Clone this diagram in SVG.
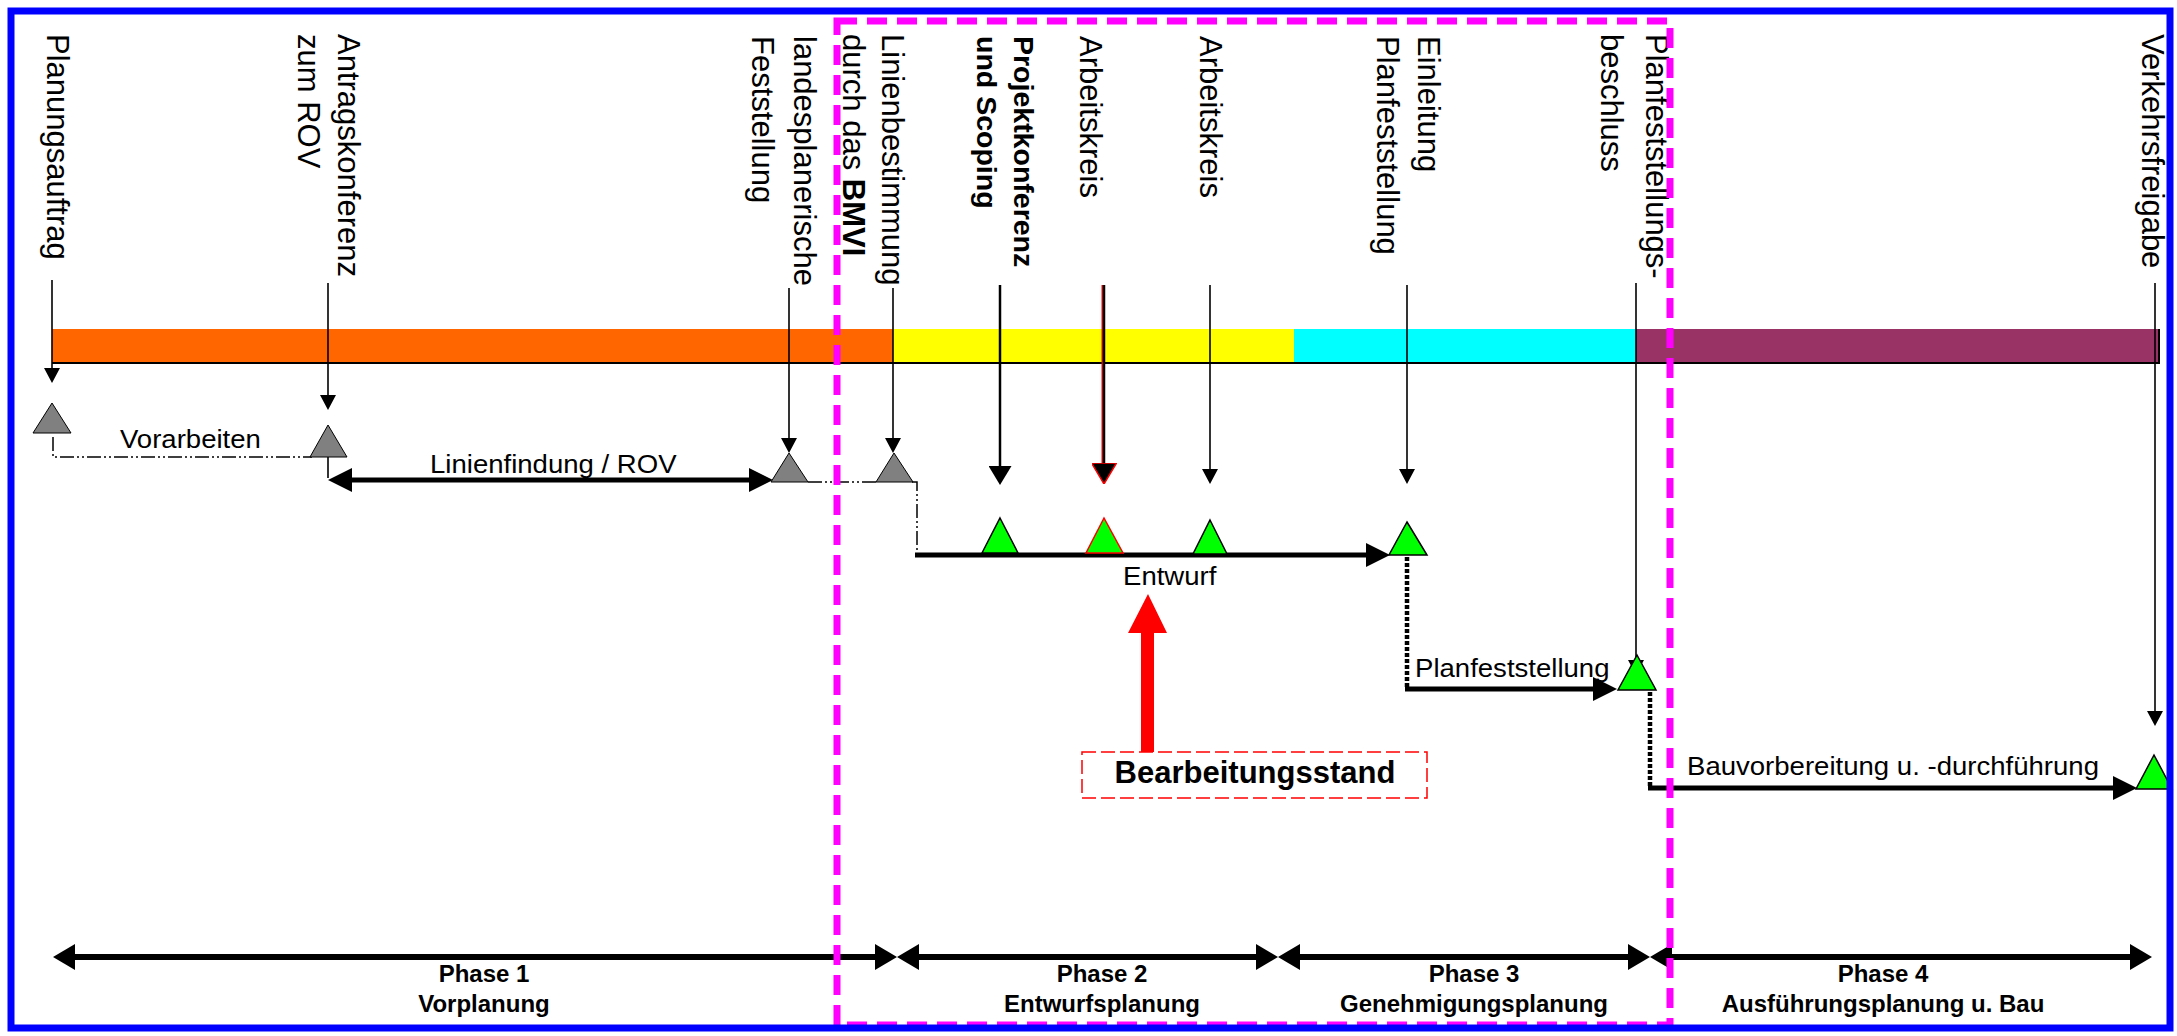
<svg xmlns="http://www.w3.org/2000/svg" width="2177" height="1036" viewBox="0 0 2177 1036">
<style>
.vl{font-family:"Liberation Sans",Arial,Helvetica,sans-serif;font-size:31px;fill:#000}
.b{font-weight:bold}
.pk{font-size:28.5px}
.hl{font-family:"Liberation Sans",Arial,Helvetica,sans-serif;font-size:26px;fill:#000}
.ph{font-family:"Liberation Sans",Arial,Helvetica,sans-serif;font-size:24px;font-weight:bold;fill:#000;text-anchor:middle}
.bs{font-family:"Liberation Sans",Arial,Helvetica,sans-serif;font-size:31px;font-weight:bold;fill:#000;text-anchor:middle}
.thin{stroke:#000;stroke-width:1.6;fill:none}
.thick{stroke:#000;stroke-width:5;fill:none}
.phase{stroke:#000;stroke-width:6;fill:none}
.dd{stroke:#000;stroke-width:1.5;fill:none;stroke-dasharray:14 3 2 3 2 3}
.dot{stroke:#000;stroke-width:4.5;fill:none;stroke-dasharray:4 2}
.gray{fill:#808080;stroke:#000;stroke-width:1}
.green{fill:#00FF00;stroke:#000;stroke-width:1.5}
</style>
<defs>
<marker id="mt" viewBox="0 0 15 16" refX="12" refY="8" markerWidth="15" markerHeight="16" markerUnits="userSpaceOnUse" orient="auto"><path d="M0,0 L15,8 L0,16 z" fill="#000"/></marker>
<marker id="mm" viewBox="0 0 19 23" refX="15" refY="11.5" markerWidth="19" markerHeight="23" markerUnits="userSpaceOnUse" orient="auto"><path d="M0,0 L19,11.5 L0,23 z" fill="#000"/></marker>
<marker id="mr" viewBox="0 0 21 25" refX="16" refY="12.5" markerWidth="21" markerHeight="25" markerUnits="userSpaceOnUse" orient="auto"><path d="M0,0 L21,12.5 L0,25 z" fill="#000" stroke="#FF0000" stroke-width="1.5"/></marker>
<marker id="mb" viewBox="0 0 24 24" refX="18" refY="12" markerWidth="24" markerHeight="24" markerUnits="userSpaceOnUse" orient="auto-start-reverse"><path d="M0,0 L24,12 L0,24 z" fill="#000"/></marker>
<marker id="mp" viewBox="0 0 22 26" refX="16" refY="13" markerWidth="22" markerHeight="26" markerUnits="userSpaceOnUse" orient="auto-start-reverse"><path d="M0,0 L22,13 L0,26 z" fill="#000"/></marker>
</defs>
<rect x="0" y="0" width="2177" height="1036" fill="#fff"/>

<g id="timeline-bar">
<rect x="52" y="329" width="841" height="34" fill="#FF6600"/>
<rect x="893" y="329" width="401" height="34" fill="#FFFF00"/>
<rect x="1294" y="329" width="342" height="34" fill="#00FFFF"/>
<rect x="1636" y="329" width="523" height="34" fill="#993366"/>
<path d="M52,363 H2160 M2159,329 V363" stroke="#000" stroke-width="2" fill="none"/>
</g>

<g id="connectors">
<path class="thin" d="M52,280 V380" marker-end="url(#mt)"/>
<path class="thin" d="M328,283 V407" marker-end="url(#mt)"/>
<path class="thin" d="M789,288 V450" marker-end="url(#mt)"/>
<path class="thin" d="M893,288 V450" marker-end="url(#mt)"/>
<path d="M1000,285 V481" stroke="#000" stroke-width="2.5" fill="none" marker-end="url(#mm)"/>
<path d="M1102.5,285 V470" stroke="#FF0000" stroke-width="2" fill="none"/>
<path d="M1104,285 V479" stroke="#000" stroke-width="2.5" fill="none" marker-end="url(#mr)"/>
<path class="thin" d="M1210,285 V481" marker-end="url(#mt)"/>
<path class="thin" d="M1407,285 V481" marker-end="url(#mt)"/>
<path class="thin" d="M1636,283 V672" marker-end="url(#mt)"/>
<path class="thin" d="M2155,283 V723" marker-end="url(#mt)"/>

<path class="dd" d="M53,437 V457 H312"/>
<path class="thin" d="M328,457 V478"/>
<path class="thick" d="M334,480 H767" marker-start="url(#mb)" marker-end="url(#mb)"/>
<path class="dd" d="M808,482 H878"/>
<path class="dd" d="M912,482 H917 V553"/>
<path class="thick" d="M915,555 H1384" marker-end="url(#mb)"/>
<path class="dot" d="M1407,557 V687"/>
<path class="thick" d="M1405,689 H1611" marker-end="url(#mb)"/>
<path class="dot" d="M1650,692 V786"/>
<path class="thick" d="M1648,788 H2131" marker-end="url(#mb)"/>

<path class="phase" d="M59,957 H891" marker-start="url(#mp)" marker-end="url(#mp)"/>
<path class="phase" d="M903,957 H1272" marker-start="url(#mp)" marker-end="url(#mp)"/>
<path class="phase" d="M1284,957 H1644" marker-start="url(#mp)" marker-end="url(#mp)"/>
<path class="phase" d="M1656,957 H2146" marker-start="url(#mp)" marker-end="url(#mp)"/>

<path d="M1141,752 V633 H1128 L1148,594 L1167,633 H1154 V752 z" fill="#FF0000"/>
</g>

<g id="milestones">
<polygon id="m-planungsauftrag" class="gray" points="52,403 71,433 33,433"/>
<polygon id="m-antragskonferenz" class="gray" points="328,425 347,457 310,457"/>
<polygon id="m-landesplanerisch" class="gray" points="789,453 808,482 771,482"/>
<polygon id="m-linienbestimmung" class="gray" points="894,453 913,482 876,482"/>
<polygon id="m-projektkonferenz" class="green" points="1000,518 1018,553 982,553"/>
<polygon id="m-arbeitskreis1" points="1104,518 1123,553 1086,553" fill="#00FF00" stroke="#FF0000" stroke-width="1.5"/>
<polygon id="m-arbeitskreis2" class="green" points="1210,520 1227,554 1193,554"/>
<polygon id="m-einleitung" class="green" points="1407,522 1427,555 1389,555"/>
<polygon id="m-pfb" class="green" points="1637,655 1656,690 1618,690"/>
<polygon id="m-verkehrsfreigabe" class="green" points="2154,755 2172,789 2136,789"/>
</g>

<g id="vertical-labels">
<text class="vl" transform="translate(47,34) rotate(90)">Planungsauftrag</text>
<text class="vl" transform="translate(338,34) rotate(90)"><tspan x="0" y="0">Antragskonferenz</tspan><tspan x="0" y="40">zum ROV</tspan></text>
<text class="vl" transform="translate(794,36) rotate(90)"><tspan x="0" y="0">landesplanerische</tspan><tspan x="0" y="42">Feststellung</tspan></text>
<text class="vl" transform="translate(882,34) rotate(90)"><tspan x="0" y="0">Linienbestimmung</tspan><tspan x="0" y="39">durch das <tspan class="b">BMVI</tspan></tspan></text>
<text class="vl b pk" transform="translate(1014,36) rotate(90)"><tspan x="0" y="0">Projektkonferenz</tspan><tspan x="0" y="37">und Scoping</tspan></text>
<text class="vl" transform="translate(1080,36) rotate(90)">Arbeitskreis</text>
<text class="vl" transform="translate(1200,36) rotate(90)">Arbeitskreis</text>
<text class="vl" transform="translate(1418,36) rotate(90)"><tspan x="0" y="0">Einleitung</tspan><tspan x="0" y="41">Planfeststellung</tspan></text>
<text class="vl" transform="translate(1646,34) rotate(90)"><tspan x="0" y="0">Planfeststellungs-</tspan><tspan x="0" y="45">beschluss</tspan></text>
<text class="vl" transform="translate(2142,34) rotate(90)">Verkehrsfreigabe</text>
</g>

<g id="activity-labels">
<text class="hl" transform="translate(120,448) scale(1.06,1)">Vorarbeiten</text>
<text class="hl" transform="translate(430,473) scale(1.06,1)">Linienfindung / ROV</text>
<text class="hl" transform="translate(1123,585) scale(1.06,1)">Entwurf</text>
<text class="hl" transform="translate(1415,677) scale(1.06,1)">Planfeststellung</text>
<text class="hl" transform="translate(1687,775) scale(1.06,1)">Bauvorbereitung u. -durchführung</text>
</g>

<g id="bearbeitungsstand">
<rect x="1082" y="752" width="345" height="46" fill="#fff" stroke="#FF0000" stroke-width="1.5" stroke-dasharray="14 5"/>
<text class="bs" x="1255" y="783">Bearbeitungsstand</text>
</g>

<g id="phase-labels">
<text class="ph" x="484" y="982">Phase 1</text>
<text class="ph" x="484" y="1012">Vorplanung</text>
<text class="ph" x="1102" y="982">Phase 2</text>
<text class="ph" x="1102" y="1012">Entwurfsplanung</text>
<text class="ph" x="1474" y="982">Phase 3</text>
<text class="ph" x="1474" y="1012">Genehmigungsplanung</text>
<text class="ph" x="1883" y="982">Phase 4</text>
<text class="ph" x="1883" y="1012">Ausführungsplanung u. Bau</text>
</g>

<g id="current-scope">
<rect x="837" y="21" width="833" height="1004" fill="none" stroke="#FF00FF" stroke-width="7" stroke-dasharray="20 10"/>
</g>

<g id="frame">
<rect x="11" y="11" width="2159" height="1017" fill="none" stroke="#0000FF" stroke-width="7"/>
</g>
</svg>
